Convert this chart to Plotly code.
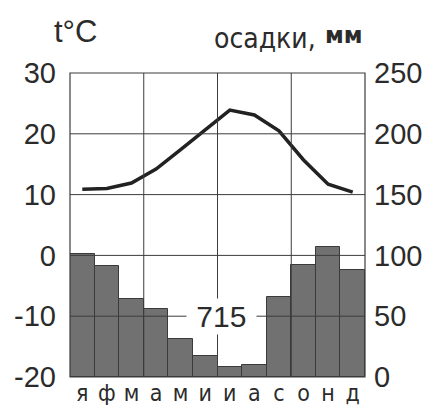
import plotly.graph_objects as go

months = ["я", "ф", "м", "а", "м", "и", "и", "а", "с", "о", "н", "д"]
temperature = [10.9, 11.0, 11.9, 14.2, 17.4, 20.7, 23.9, 23.1, 20.5, 15.7, 11.7, 10.4]
precipitation = [101, 91, 64, 56, 31, 17, 8, 10, 66, 92, 107, 88]
annual_total = "715"
temp_ticks = [-20, -10, 0, 10, 20, 30]
temp_labels = ["-20", "-10", "0", "10", "20", "30"]
precip_ticks = [0, 50, 100, 150, 200, 250]
precip_labels = ["0", "50", "100", "150", "200", "250"]

x = list(range(len(months)))
FONT = "Liberation Sans, Arial, sans-serif"
COND = "DejaVu Sans Condensed, DejaVu Sans, sans-serif"
DJV = "DejaVu Sans, sans-serif"
TXT = "#2b2b2b"
GRID = "#3c3c3c"

fig = go.Figure()
fig.add_trace(go.Bar(
    x=x, y=precipitation, yaxis="y2", width=1.0,
    marker=dict(color="#717171", line=dict(color="#3a3a3a", width=1)),
    showlegend=False,
))
fig.add_trace(go.Scatter(
    x=x, y=temperature, yaxis="y", mode="lines",
    line=dict(color="#222222", width=3.5),
    showlegend=False,
))

shapes = []
for t in temp_ticks[1:-1]:
    shapes.append(dict(type="line", xref="paper", yref="y", x0=0, x1=1, y0=t, y1=t,
                       line=dict(color=GRID, width=1), layer="above"))
for v in [2.5, 5.5, 8.5]:
    shapes.append(dict(type="line", xref="x", yref="paper", x0=v, x1=v, y0=0, y1=1,
                       line=dict(color=GRID, width=1), layer="above"))
shapes.append(dict(type="rect", xref="paper", yref="paper", x0=0, x1=1, y0=0, y1=1,
                   line=dict(color=GRID, width=1.2), layer="above"))

# page body has an 8px default margin, so the figure is sized to fill the rest
fig.update_layout(
    width=425, height=397,
    margin=dict(l=62, r=68, t=65, b=28, autoexpand=False),
    paper_bgcolor="white", plot_bgcolor="white",
    bargap=0,
    font=dict(family=FONT, color=TXT),
    xaxis=dict(range=[-0.5, 11.5], tickvals=x, ticktext=months, showgrid=False,
               zeroline=False, showline=False, ticks="", ticklabelstandoff=0,
               automargin=False, tickfont=dict(size=23, family=COND, color=TXT)),
    yaxis=dict(range=[-20, 30], tickvals=temp_ticks, ticktext=temp_labels, showgrid=False,
               zeroline=False, showline=False, ticks="", ticklabelstandoff=13,
               automargin=False, tickfont=dict(size=29, family=FONT, color=TXT)),
    yaxis2=dict(range=[0, 250], tickvals=precip_ticks, ticktext=precip_labels,
                overlaying="y", side="right", ticklabelstandoff=8, automargin=False,
                showgrid=False, zeroline=False, showline=False, ticks="",
                tickfont=dict(size=29, family=FONT, color=TXT)),
    shapes=shapes,
    annotations=[
        dict(text="t°C", xref="paper", yref="paper", x=-0.06, y=1.138, xanchor="left",
             yanchor="middle", showarrow=False, font=dict(size=31, family=FONT, color=TXT)),
        dict(text="осадки,", xref="paper", yref="paper", x=0.841, y=1.114,
             xanchor="right", yanchor="middle", showarrow=False,
             font=dict(size=28, family=COND, color=TXT)),
        dict(text="<b>мм</b>", xref="paper", yref="paper", x=0.858, y=1.126,
             xanchor="left", yanchor="middle", showarrow=False,
             font=dict(size=23, family=DJV, color=TXT)),
        dict(text="&nbsp;" + annual_total + "&nbsp;", xref="x", yref="y", x=5.68, y=-10,
             showarrow=False, bgcolor="white", borderpad=1,
             font=dict(size=30, family=FONT, color=TXT)),
    ],
)

fig.write_html("out.html")
